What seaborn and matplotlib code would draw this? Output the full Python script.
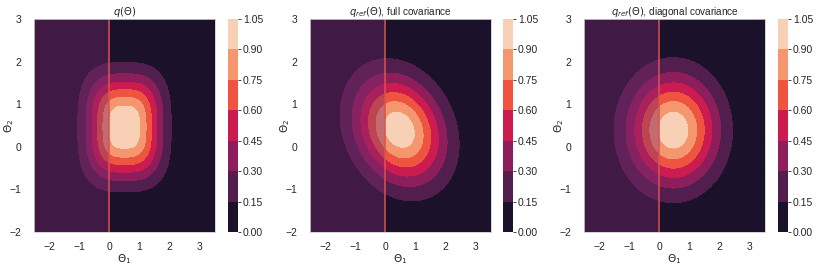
import matplotlib
matplotlib.use("Agg")
import matplotlib.pyplot as plt
import numpy as np
import seaborn as sns

# contour levels shown on the colorbars
levels = [0.0, 0.15, 0.30, 0.45, 0.60, 0.75, 0.90, 1.05]

titles = [r"$q(\Theta)$",
          r"$q_{ref}(\Theta)$, full covariance",
          r"$q_{ref}(\Theta)$, diagonal covariance"]

# q(Theta): squarish bump (peak, centre, scales, shape exponents)
q_peak = 1.04
q_mean = [0.5, 0.46]
q_scale = [1.16, 1.14]
q_shape = [3.0, 2.3]

# reference Gaussians, full and diagonal covariance
ref_peak = 1.01
ref_mean_full = [0.47, 0.40]
ref_cov_full = [[1.02, -0.18], [-0.18, 0.73]]
ref_mean_diag = [0.46, 0.39]
ref_cov_diag = [[1.01, 0.0], [0.0, 0.76]]

x_range = [-2.5, 3.5]
y_range = [-2.0, 3.0]
boundary = 0.0


def bump(X, Y):
    dx = np.abs(X - q_mean[0]) / q_scale[0]
    dy = np.abs(Y - q_mean[1]) / q_scale[1]
    r = (dx ** q_shape[0] + dy ** q_shape[0]) ** (1 / q_shape[0])
    return q_peak * np.exp(-r ** q_shape[1])


def gauss(X, Y, mean, cov):
    inv = np.linalg.inv(np.array(cov))
    dx, dy = X - mean[0], Y - mean[1]
    m = inv[0, 0] * dx * dx + 2 * inv[0, 1] * dx * dy + inv[1, 1] * dy * dy
    return ref_peak * np.exp(-0.5 * m)


def main() -> None:
    sns.set_theme(style="whitegrid")
    plt.rcParams["font.family"] = ["Liberation Sans", "DejaVu Sans"]
    cmap = sns.color_palette("rocket", as_cmap=True)

    xs = np.linspace(*x_range, 400)
    ys = np.linspace(*y_range, 400)
    X, Y = np.meshgrid(xs, ys)
    Zs = [bump(X, Y),
          gauss(X, Y, ref_mean_full, ref_cov_full),
          gauss(X, Y, ref_mean_diag, ref_cov_diag)]

    fig = plt.figure(figsize=(8.18, 2.65), dpi=100)
    W, H = 818, 265
    ax_left = [34, 310, 584]
    cb_left = [228, 503, 778]
    for i, Z in enumerate(Zs):
        ax = fig.add_axes([ax_left[i] / W, 33 / H, 181 / W, 213 / H])
        cax = fig.add_axes([cb_left[i] / W, 33 / H, 10 / W, 213 / H])
        cs = ax.contourf(X, Y, Z, levels=levels, cmap=cmap)
        ax.axvspan(x_range[0], boundary, color="#7a2a6e", alpha=0.4, lw=0)
        ax.axvline(boundary, color="#d9534f", lw=1.1)
        ax.set_xlim(x_range)
        ax.set_ylim(y_range)
        ax.set_xticks([-2, -1, 0, 1, 2, 3])
        ax.set_yticks([-2, -1, 0, 1, 2, 3])
        ax.tick_params(axis="x", labelsize=7.5, pad=1)
        ax.tick_params(axis="y", labelsize=7.5, pad=3)
        ax.grid(False)
        for s in ax.spines.values():
            s.set_linewidth(0.6)
        ax.set_title(titles[i], fontsize=7.2, pad=3)
        ax.set_xlabel(r"$\Theta_1$", fontsize=7.5, labelpad=0)
        ax.set_ylabel(r"$\Theta_2$", fontsize=7.5)
        ax.yaxis.set_label_coords(-0.1, 0.5)
        cbar = fig.colorbar(cs, cax=cax)
        cbar.set_ticks(levels)
        cbar.ax.set_yticklabels([f"{v:.2f}" for v in levels])
        cbar.ax.tick_params(labelsize=7.5, length=2.5, width=0.6, pad=1)
        cbar.ax.grid(False)
        cbar.outline.set_visible(False)

    fig.savefig("out.png", dpi=100)
    plt.close(fig)


if __name__ == "__main__":
    main()
